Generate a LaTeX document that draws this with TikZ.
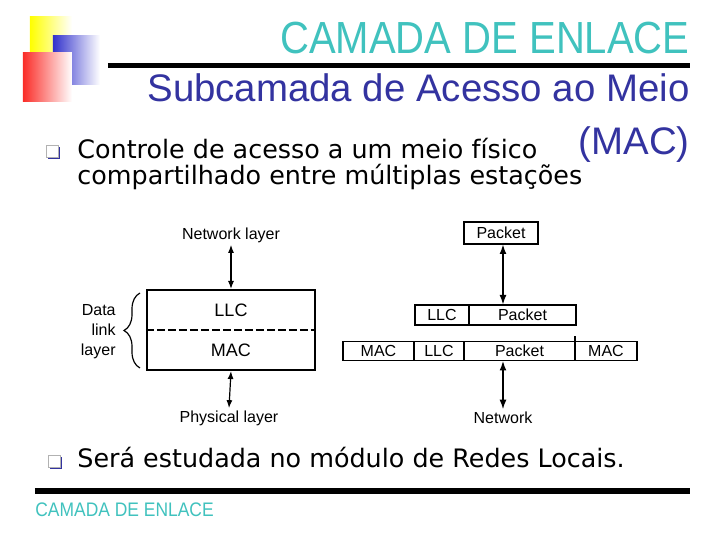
\documentclass[tikz,border=0pt]{standalone}
\usepackage{fontspec}
\setmainfont{Liberation Sans}
\newfontfamily\titlefont[FakeStretch=0.89]{Liberation Sans}
\newfontfamily\comicfont{DejaVu Sans}
\usetikzlibrary{positioning,decorations.pathreplacing,arrows.meta}
\definecolor{titleteal}{RGB}{64,194,190}
\definecolor{subblue}{RGB}{51,51,160}
\definecolor{logoyellow}{RGB}{255,255,0}
\definecolor{logoblue}{RGB}{51,51,204}
\definecolor{logored}{RGB}{250,45,40}
\tikzset{
  cell/.style={draw,line width=0.7pt,inner sep=0pt,outer sep=0pt,font=\fontsize{8}{9}\selectfont},
  lbl/.style={inner sep=1pt,font=\fontsize{8}{10}\selectfont},
  tip/.style={{Latex[length=4pt,width=3pt]}-{Latex[length=4pt,width=3pt]},line width=0.6pt},
  bigtip/.style={{Latex[length=5pt,width=3.5pt]}-{Latex[length=5pt,width=3.5pt]},line width=1.2pt},
  bodytext/.style={inner sep=0pt,anchor=base west,font=\comicfont\fontsize{12.7}{14}\selectfont}
}
\begin{document}
\begin{tikzpicture}[x=0.5pt,y=-0.5pt]
  \fill[white] (0,0) rectangle (720,540);
  \useasboundingbox (0,0) rectangle (720,540);
  \shade[left color=logoyellow,middle color=logoyellow!75!white,right color=white] (30,17) rectangle (72,53);
  \shade[left color=logoblue,middle color=logoblue!55!white,right color=white] (53,36) rectangle (100,85);
  \shade[left color=logored,middle color=logored!60!white,right color=white] (23,53) rectangle (72,102);
  \draw[line width=2.75pt] (108,65.5) -- (690,65.5);
  \draw[line width=3pt] (35,491) -- (690,491);
  \node[inner sep=0pt,anchor=base east,text=titleteal,font=\titlefont\fontsize{22.5}{24}\selectfont] (title) at (690,54) {CAMADA DE ENLACE};
  \node[inner sep=0pt,anchor=base east,text=subblue,font=\fontsize{19.2}{22}\selectfont] (sub) at (690,102) {Subcamada de Acesso ao Meio};
  \node[inner sep=0pt,anchor=base east,text=subblue,font=\fontsize{19.2}{22}\selectfont] (submac) at (690,155) {(MAC)};
  \node[inner sep=0pt,anchor=base west,text=titleteal,font=\titlefont\fontsize{9.8}{11}\selectfont] (foot) at (35,517) {CAMADA DE ENLACE};
  \foreach \bx/\by in {46/145,48/455} {
    \fill[subblue] (\bx+2,\by+2) rectangle (\bx+14,\by+14);
    \draw[gray!60,fill=white,line width=0.4pt] (\bx,\by) rectangle (\bx+12,\by+12);
  }
  \node[bodytext] (ctrl1) at (77,159) {Controle de acesso a um meio físico};
  \node[bodytext] (ctrl2) at (77,185) {compartilhado entre múltiplas estações};
  \node[bodytext] (redes) at (77,468) {Será estudada no módulo de Redes Locais.};

  \node[lbl] (netlayer) at (231,235) {Network layer};
  \node[draw,line width=1pt,inner sep=0pt,minimum width=84pt,minimum height=40pt] (dll) at (231,330) {};
  \draw[line width=0.8pt,dash pattern=on 4pt off 1.5pt] (dll.west) -- (dll.east);
  \node[lbl,font=\fontsize{9}{10}\selectfont] (llc) at (231,310) {LLC};
  \node[lbl,font=\fontsize{9}{10}\selectfont] (mac) at (231,350) {MAC};
  \node[lbl] (phys) at (229,418) {Physical layer};
  \draw[tip] (netlayer.south) -- (dll.north);
  \draw[tip] (dll.south) -- (phys.north);
  \draw[line width=0.6pt,decorate,decoration={brace,amplitude=8pt}] (140,368) -- (140,293);
  \node[lbl,align=right,anchor=east] (dlltxt) at (118,332) {Data\\link\\layer};

  \node[cell,minimum width=37pt,minimum height=11pt] (pkt) at (501,233) {Packet};
  \node[cell,anchor=west,minimum width=27pt,minimum height=10pt] (llc1) at (415,315) {LLC};
  \node[cell,right=0pt of llc1,minimum width=53.5pt,minimum height=10pt] (pkt1) {Packet};
  \node[cell,anchor=west,minimum width=35.5pt,minimum height=9.5pt] (mac2a) at (343,351) {MAC};
  \node[cell,right=0pt of mac2a,minimum width=25pt,minimum height=9.5pt] (llc2) {LLC};
  \node[cell,right=0pt of llc2,minimum width=55.5pt,minimum height=9.5pt] (pkt2) {Packet};
  \node[cell,right=0pt of pkt2,minimum width=31pt,minimum height=9.5pt] (mac2b) {MAC};
  \draw[line width=0.7pt] (mac2b.north west) -- ++(0,-5);
  \node[lbl] (net) at (503,418) {Network};
  \draw[bigtip] ([xshift=1pt]pkt.south) -- ([xshift=1pt]pkt.south |- pkt1.north);
  \draw[bigtip] (net.north) -- (net.north |- pkt2.south);
\end{tikzpicture}
\end{document}
